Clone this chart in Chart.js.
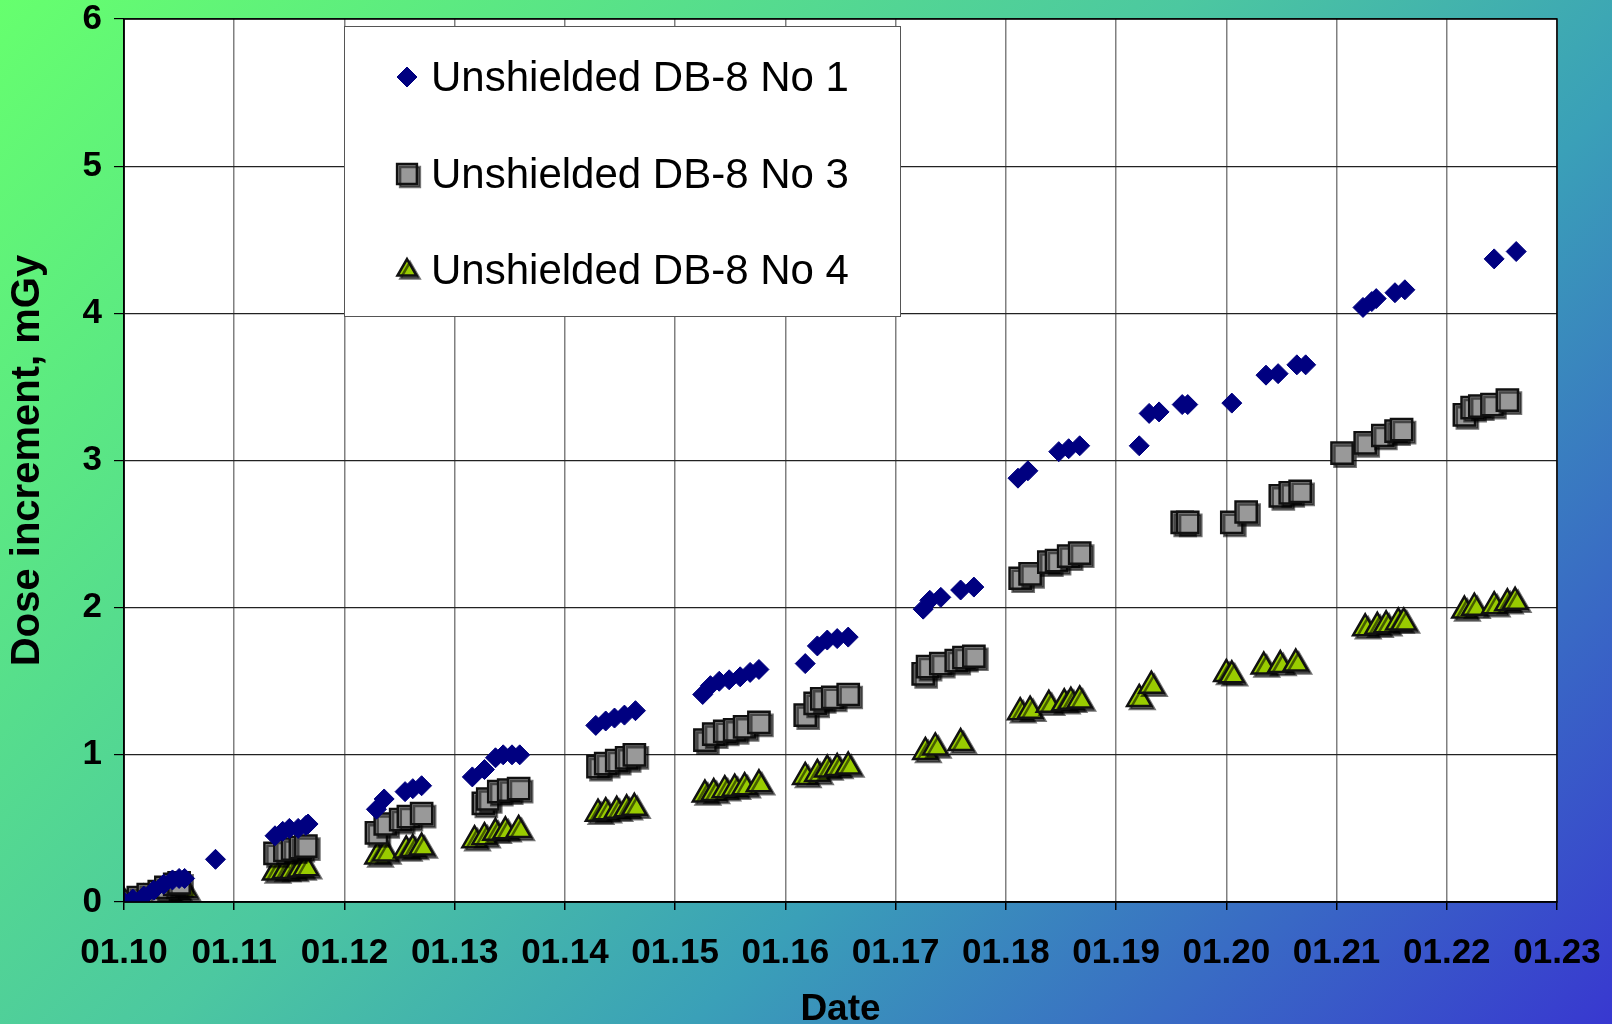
<!DOCTYPE html>
<html><head><meta charset="utf-8">
<script src="https://cdn.jsdelivr.net/npm/chart.js@4"></script>
<style>
html,body{margin:0;padding:0;}
body{width:1612px;height:1024px;background:linear-gradient(135deg,#66ff6e 0%,#4cc8a0 45%,#3aa0b8 65%,#3838d0 100%);overflow:hidden;}
canvas{display:block;}
</style></head><body>
<canvas id="c" width="1612" height="1024"></canvas>
<script>
const seriesNames=["Unshielded DB-8 No 1","Unshielded DB-8 No 3","Unshielded DB-8 No 4"];
const xTickLabels=["01.10","01.11","01.12","01.13","01.14","01.15","01.16","01.17","01.18","01.19","01.20","01.21","01.22","01.23"];
const no1Days=[0,0.08,0.18,0.27,0.36,0.44,0.5,0.55,0.83,1.37,1.44,1.5,1.58,1.65,1.67,2.29,2.36,2.55,2.62,2.7,3.16,3.27,3.37,3.44,3.52,3.59,4.28,4.37,4.45,4.54,4.64,5.25,5.32,5.4,5.49,5.59,5.68,5.76,6.18,6.29,6.38,6.47,6.57,7.25,7.31,7.41,7.59,7.71,8.11,8.2,8.48,8.57,8.67,9.21,9.3,9.39,9.6,9.65,10.05,10.36,10.47,10.64,10.72,11.24,11.32,11.36,11.53,11.62,12.43,12.63];
const no1Dose=[0,0.02,0.04,0.08,0.12,0.15,0.16,0.16,0.29,0.45,0.48,0.5,0.5,0.52,0.53,0.63,0.7,0.75,0.77,0.79,0.85,0.9,0.98,1.0,1.0,1.0,1.2,1.23,1.25,1.27,1.3,1.41,1.47,1.5,1.51,1.53,1.56,1.58,1.62,1.74,1.78,1.79,1.8,1.99,2.05,2.07,2.12,2.14,2.88,2.93,3.06,3.08,3.1,3.1,3.32,3.33,3.38,3.38,3.39,3.58,3.59,3.65,3.65,4.04,4.08,4.1,4.14,4.16,4.37,4.42];
const no3Days=[0,0.13,0.22,0.32,0.38,0.46,0.5,1.37,1.46,1.53,1.6,1.65,2.29,2.37,2.51,2.58,2.7,3.26,3.3,3.4,3.49,3.58,4.3,4.37,4.47,4.56,4.63,5.27,5.35,5.45,5.54,5.63,5.76,6.18,6.27,6.33,6.43,6.57,7.25,7.29,7.41,7.55,7.62,7.71,8.13,8.22,8.39,8.46,8.57,8.67,9.6,9.65,10.05,10.18,10.49,10.58,10.67,11.05,11.26,11.42,11.54,11.59,12.16,12.23,12.3,12.41,12.55];
const no3Dose=[0,0.03,0.05,0.07,0.1,0.12,0.13,0.33,0.35,0.36,0.37,0.38,0.47,0.53,0.56,0.58,0.6,0.67,0.7,0.75,0.76,0.77,0.92,0.94,0.96,0.98,1.0,1.1,1.14,1.16,1.17,1.19,1.22,1.27,1.35,1.38,1.39,1.41,1.55,1.6,1.62,1.64,1.66,1.67,2.2,2.23,2.31,2.32,2.35,2.37,2.58,2.58,2.58,2.65,2.76,2.78,2.79,3.05,3.12,3.17,3.2,3.21,3.31,3.36,3.37,3.38,3.41];
const no4Days=[0,0.18,0.32,0.41,0.48,0.55,1.37,1.46,1.53,1.6,1.65,2.3,2.37,2.56,2.62,2.7,3.18,3.27,3.37,3.46,3.58,4.3,4.37,4.47,4.56,4.63,5.27,5.35,5.45,5.54,5.63,5.76,6.18,6.29,6.38,6.47,6.57,7.27,7.36,7.59,8.13,8.22,8.39,8.53,8.59,8.67,9.21,9.32,10.0,10.05,10.34,10.49,10.63,11.26,11.37,11.45,11.56,11.61,12.16,12.25,12.43,12.55,12.62];
const no4Dose=[0,0.02,0.04,0.05,0.07,0.08,0.2,0.21,0.21,0.22,0.23,0.31,0.33,0.35,0.36,0.37,0.42,0.44,0.47,0.48,0.49,0.6,0.61,0.62,0.63,0.64,0.73,0.74,0.76,0.77,0.78,0.8,0.85,0.87,0.9,0.91,0.92,1.02,1.05,1.08,1.29,1.3,1.34,1.35,1.36,1.37,1.38,1.47,1.55,1.54,1.6,1.61,1.62,1.86,1.87,1.88,1.9,1.9,1.98,2.0,2.01,2.03,2.04];
const yTicks=[0,1,2,3,4,5,6];

const pts=(xs,ys)=>xs.map((x,i)=>({x:x,y:ys[i]}));
const styles=[
 {pointStyle:'rectRot',radius:10,bg:'#000080',border:'#000080',bw:1,shadow:false},
 {pointStyle:'rect',radius:15,bg:'#999999',border:'#111111',bw:2.5,shadow:true},
 {pointStyle:'triangle',radius:14,bg:'#99cc00',border:'#111111',bw:2.5,shadow:true}
];
const data=[pts(no1Days,no1Dose),pts(no3Days,no3Dose),pts(no4Days,no4Dose)];
const datasets=data.map((d,i)=>({label:seriesNames[i],data:d,showLine:false,pointStyle:styles[i].pointStyle,pointRadius:styles[i].radius,pointHoverRadius:styles[i].radius,pointBackgroundColor:styles[i].bg,pointBorderColor:styles[i].border,pointBorderWidth:styles[i].bw,shadow:styles[i].shadow}));

const plugin={
 id:'deco',
 beforeDraw(c){const {ctx,chartArea:a}=c;ctx.save();ctx.fillStyle='#fff';ctx.fillRect(a.left,a.top,a.right-a.left,a.bottom-a.top);ctx.restore();},
 beforeDatasetDraw(c,args){const ds=c.data.datasets[args.index];const ctx=c.ctx;ctx.save();if(ds.shadow){ctx.shadowColor='rgba(0,0,0,0.55)';ctx.shadowOffsetX=3;ctx.shadowOffsetY=3;ctx.shadowBlur=0;}},
 afterDatasetDraw(c){c.ctx.restore();},
 afterDraw(c){
  const ctx=c.ctx,a=c.chartArea;ctx.save();
  ctx.strokeStyle='#000';ctx.lineWidth=1.5;ctx.strokeRect(a.left,a.top,a.right-a.left,a.bottom-a.top);
  const L=344,T=26,W=556,H=290;
  ctx.fillStyle='#fff';ctx.fillRect(L,T,W,H);ctx.strokeStyle='#555';ctx.lineWidth=1;ctx.strokeRect(L+0.5,T+0.5,W,H);
  ctx.font='42px "Liberation Sans", Arial, sans-serif';ctx.textBaseline='middle';
  const ys=[77,174,270];
  for(let i=0;i<3;i++){
   const s=styles[i],cx=407,cy=ys[i];
   ctx.save();
   if(s.shadow){ctx.shadowColor='rgba(0,0,0,0.55)';ctx.shadowOffsetX=3;ctx.shadowOffsetY=3;}
   ctx.fillStyle=s.bg;ctx.strokeStyle=s.border;ctx.lineWidth=s.bw;
   Chart.helpers.drawPoint(ctx,{pointStyle:s.pointStyle,radius:i===0?10:(i===1?14:11),borderWidth:s.bw},cx,cy);
   ctx.restore();
   ctx.fillStyle='#000';ctx.fillText(seriesNames[i],431,cy+2);
  }
  ctx.restore();
 }
};

new Chart(document.getElementById('c'),{
 type:'scatter',
 data:{datasets},
 plugins:[plugin],
 options:{
  responsive:false,animation:false,
  layout:{padding:{left:0,right:55,top:19,bottom:0}},
  plugins:{legend:{display:false},tooltip:{enabled:false}},
  scales:{
   x:{type:'linear',min:0,max:13,
     afterBuildTicks(s){s.ticks=xTickLabels.map((_,i)=>({value:i}));},
     afterFit(s){s.height=122;s.paddingRight=0;},
     ticks:{callback:(v)=>xTickLabels[v],color:'#000',font:{family:'"Liberation Sans", Arial',size:35,weight:'bold'},padding:22,maxRotation:0,autoSkip:false},
     grid:{color:'#808080',lineWidth:1.5,tickLength:8,tickColor:'#000'},border:{color:'#000',width:1.5},
     title:{display:true,text:'Date',color:'#000',font:{family:'"Liberation Sans", Arial',size:37,weight:'bold'},padding:{top:0,bottom:-8}}},
   y:{min:0,max:6,
     afterBuildTicks(s){s.ticks=yTicks.map(v=>({value:v}));},
     afterFit(s){s.width=124;s.paddingTop=0;},
     ticks:{color:'#000',font:{family:'"Liberation Sans", Arial',size:35,weight:'bold'},padding:12},
     grid:{color:'#222',lineWidth:1.2,tickLength:10,tickColor:'#000'},border:{color:'#000',width:1.5},
     title:{display:true,text:'Dose increment, mGy',color:'#000',font:{family:'"Liberation Sans", Arial',size:40,weight:'bold'},padding:{bottom:4}}}
  }
 }
});
</script></body></html>
